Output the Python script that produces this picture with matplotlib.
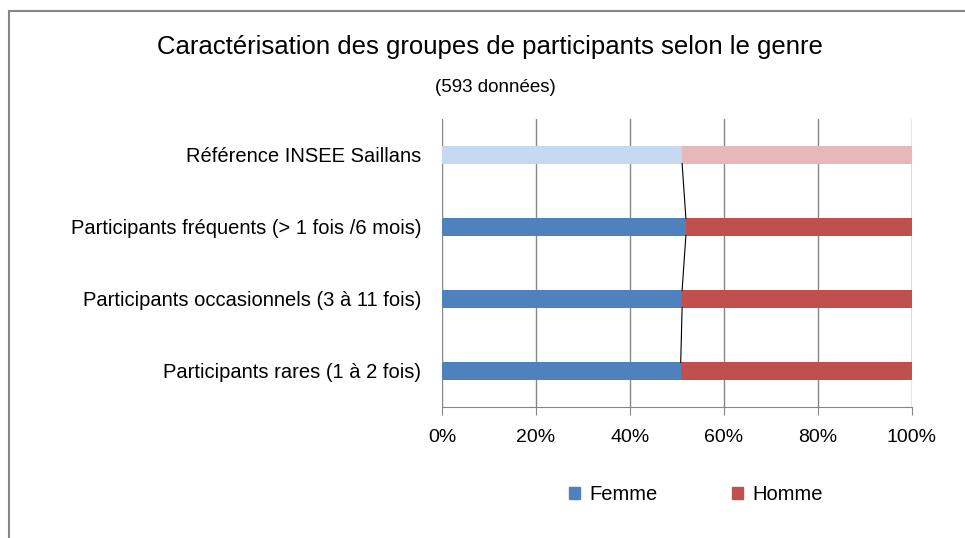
import matplotlib.pyplot as plt
import numpy as np
from matplotlib.patches import Rectangle

plt.rcParams['font.family'] = ['Liberation Sans Narrow', 'Liberation Sans', 'DejaVu Sans']

# data (bottom to top)
categories = ['Participants rares (1 à 2 fois)',
              'Participants occasionnels (3 à 11 fois)',
              'Participants fréquents (> 1 fois /6 mois)',
              'Référence INSEE Saillans']
femme = [50.8, 51.1, 51.9, 51.1]
homme = [100 - v for v in femme]
ticks = [0, 20, 40, 60, 80, 100]
tick_labels = ['0%', '20%', '40%', '60%', '80%', '100%']

fem_col = ['#4F81BD', '#4F81BD', '#4F81BD', '#C6D9F1']
hom_col = ['#C0504D', '#C0504D', '#C0504D', '#E6B9B8']

fig = plt.figure(figsize=(9.65, 5.38), dpi=100)
ax = fig.add_axes([0.458, 0.2435, 0.487, 0.5355])

y = np.arange(len(categories))
h = 0.24
ax.barh(y, femme, height=h, color=fem_col, zorder=3)
ax.barh(y, homme, left=femme, height=h, color=hom_col, zorder=3)

# series lines between bars
for i in range(len(y) - 1):
    ax.plot([femme[i], femme[i + 1]], [y[i] + h / 2, y[i + 1] - h / 2],
            color='black', lw=0.8, zorder=4)
    ax.plot([100, 100], [y[i] + h / 2, y[i + 1] - h / 2],
            color='black', lw=0.8, zorder=4)

ax.set_xlim(0, 100)
ax.set_ylim(-0.5, 3.5)
ax.set_xticks(ticks)
ax.set_xticklabels(tick_labels, fontsize=14)
ax.set_yticks(y)
ax.set_yticklabels(categories, fontsize=14.5)
ax.tick_params(axis='y', length=0, pad=15)
ax.tick_params(axis='x', length=6, color='#868686', pad=10)
ax.grid(axis='x', color='#868686', lw=1, zorder=0)
for s in ['top', 'right', 'left']:
    ax.spines[s].set_visible(False)
ax.spines['bottom'].set_color('#868686')

fig.text(0.508, 0.912, 'Caractérisation des groupes de participants selon le genre',
         ha='center', va='center', fontsize=18.5)
fig.text(0.513, 0.837, '(593 données)', ha='center', va='center', fontsize=13.5)

handles = [Rectangle((0, 0), 1, 1, color='#4F81BD'), Rectangle((0, 0), 1, 1, color='#C0504D')]
fig.legend(handles, ['Femme', 'Homme'], loc='center', bbox_to_anchor=(0.721, 0.08),
           ncol=2, frameon=False, fontsize=14.5, handlelength=0.55, handleheight=0.55,
           handletextpad=0.45, columnspacing=3.7)

# chart border
fig.patches.append(Rectangle((9 / 965, -0.1), 1.1, 1 - 11 / 538 + 0.1,
                             transform=fig.transFigure, fill=False,
                             edgecolor='#868686', lw=1.5))

plt.savefig('out.png', dpi=100)
